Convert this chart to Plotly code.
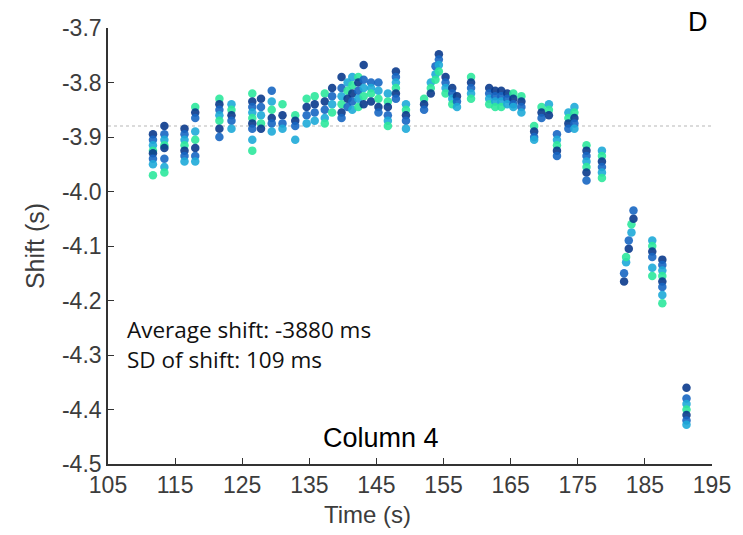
import plotly.graph_objects as go

# ---- data ----
column_time = [111.7, 113.4, 116.4, 118.0, 121.6, 123.4, 126.5, 127.8, 129.4, 131.0,
               132.9, 134.6, 135.8, 137.3, 138.4, 139.8, 140.7, 141.4, 142.3, 143.1,
               144.2, 145.3, 146.7, 147.9, 149.4, 152.1, 153.1, 153.8, 154.3, 155.3,
               156.3, 157.0, 159.1, 161.8, 162.7, 163.6, 164.5, 165.4, 166.6, 168.5,
               169.6, 170.7, 171.9, 173.6, 174.5, 176.3, 178.6, 181.9, 182.2, 182.6,
               183.0, 183.3, 186.1, 187.6, 191.2]
column_shifts = [
    [-3.895, -3.905, -3.915, -3.925, -3.93, -3.94, -3.95, -3.97],
    [-3.88, -3.895, -3.905, -3.915, -3.92, -3.94, -3.955, -3.965],
    [-3.885, -3.895, -3.905, -3.915, -3.925, -3.935, -3.945],
    [-3.845, -3.855, -3.865, -3.89, -3.905, -3.92, -3.935, -3.945],
    [-3.83, -3.84, -3.85, -3.86, -3.87, -3.885, -3.9],
    [-3.84, -3.85, -3.86, -3.87, -3.885],
    [-3.82, -3.835, -3.845, -3.855, -3.865, -3.875, -3.885, -3.905, -3.925],
    [-3.83, -3.845, -3.86, -3.875, -3.885],
    [-3.815, -3.835, -3.85, -3.865, -3.875, -3.89],
    [-3.84, -3.86, -3.875, -3.885],
    [-3.86, -3.87, -3.88, -3.905],
    [-3.83, -3.845, -3.86, -3.875],
    [-3.825, -3.84, -3.855, -3.87],
    [-3.82, -3.835, -3.85, -3.865, -3.875],
    [-3.81, -3.825, -3.84, -3.855],
    [-3.79, -3.81, -3.825, -3.84, -3.855, -3.865],
    [-3.80, -3.815, -3.83, -3.845],
    [-3.79, -3.805, -3.82, -3.835, -3.85],
    [-3.79, -3.80, -3.815, -3.83, -3.845],
    [-3.768, -3.795, -3.81, -3.825, -3.84],
    [-3.80, -3.81, -3.82, -3.835],
    [-3.80, -3.815, -3.83, -3.845, -3.855],
    [-3.82, -3.835, -3.845, -3.86, -3.87, -3.88],
    [-3.78, -3.79, -3.80, -3.81, -3.82, -3.83],
    [-3.84, -3.85, -3.86, -3.87, -3.885],
    [-3.83, -3.84, -3.85],
    [-3.80, -3.81, -3.82],
    [-3.77, -3.785, -3.795],
    [-3.748, -3.758, -3.768, -3.78],
    [-3.79, -3.80, -3.81, -3.82],
    [-3.81, -3.82, -3.83, -3.84],
    [-3.825, -3.835, -3.845],
    [-3.79, -3.80, -3.81, -3.82, -3.83],
    [-3.81, -3.82, -3.83, -3.84],
    [-3.815, -3.825, -3.835, -3.845],
    [-3.815, -3.825, -3.835, -3.845],
    [-3.82, -3.83, -3.84],
    [-3.82, -3.83, -3.84, -3.845],
    [-3.825, -3.835, -3.845, -3.855],
    [-3.88, -3.89, -3.90, -3.905],
    [-3.845, -3.855, -3.865],
    [-3.84, -3.85, -3.86],
    [-3.895, -3.905, -3.915, -3.925, -3.935],
    [-3.855, -3.865, -3.875, -3.885],
    [-3.845, -3.855, -3.865, -3.875, -3.885],
    [-3.915, -3.925, -3.935, -3.945, -3.955, -3.965, -3.98],
    [-3.925, -3.935, -3.945, -3.955, -3.965, -3.975],
    [-4.165, -4.15],
    [-4.13, -4.12],
    [-4.105, -4.09],
    [-4.075, -4.06],
    [-4.05, -4.035],
    [-4.09, -4.10, -4.11, -4.12, -4.14, -4.155],
    [-4.125, -4.135, -4.145, -4.155, -4.165, -4.175, -4.19, -4.205],
    [-4.36, -4.38, -4.39, -4.40, -4.41, -4.42, -4.428],
]
avg_shift = -3.880
x_ticks = [105, 115, 125, 135, 145, 155, 165, 175, 185, 195]
y_ticks = [-4.5, -4.4, -4.3, -4.2, -4.1, -4.0, -3.9, -3.8, -3.7]
y_tick_labels = ["-4.5", "-4.4", "-4.3", "-4.2", "-4.1", "-4.0", "-3.9", "-3.8", "-3.7"]
channel_colors = ["#0a3a8c", "#1766c2", "#1eaad8", "#2ee89c"]

xs, ys, cs = [], [], []
k = 0
for t, shifts in zip(column_time, column_shifts):
    for s in shifts:
        xs.append(t)
        ys.append(s)
        cs.append(channel_colors[k % 4])
        k += 1

fig = go.Figure()
fig.add_trace(go.Scatter(
    x=xs, y=ys, mode="markers",
    marker=dict(size=8.5, color=cs, opacity=0.9, line=dict(width=0)),
    showlegend=False, hoverinfo="x+y"))

fig.add_shape(type="line", xref="x", yref="y", x0=105, x1=195, y0=avg_shift, y1=avg_shift,
              line=dict(color="#d0d0d0", width=1.5, dash="dot"), layer="below")

tick_font = dict(family="Liberation Sans, Arial", size=23, color="#3c3c3c")

fig.update_layout(
    width=743, height=535,
    margin=dict(l=108, r=31, t=28, b=71),
    plot_bgcolor="white", paper_bgcolor="white",
    xaxis=dict(range=[105, 195], tickvals=x_ticks, ticktext=[str(v) for v in x_ticks],
               ticks="inside", ticklen=6, tickwidth=1.2, tickcolor="#333",
               showline=True, linecolor="#333", linewidth=1.6, showgrid=False, zeroline=False,
               tickfont=tick_font),
    yaxis=dict(range=[-4.5, -3.7], tickvals=y_ticks, ticktext=y_tick_labels,
               ticks="inside", ticklen=6, tickwidth=1.2, tickcolor="#333",
               showline=True, linecolor="#333", linewidth=1.6, showgrid=False, zeroline=False,
               tickfont=tick_font,
               title=dict(text="Shift (s)", font=dict(family="Liberation Sans, Arial",
                                                      size=25, color="#3c3c3c"), standoff=10)),
)

fig.add_annotation(x=143.7, y=-0.115, xref="x", yref="paper", text="Time (s)",
                   showarrow=False, xanchor="center", yanchor="middle",
                   font=dict(family="Liberation Sans, Arial", size=24, color="#3c3c3c"))
fig.add_annotation(x=107.6, y=-4.253, xref="x", yref="y", text="Average shift: -3880 ms",
                   showarrow=False, xanchor="left", yanchor="middle",
                   font=dict(family="Open Sans", size=22.5, color="#111"))
fig.add_annotation(x=107.6, y=-4.308, xref="x", yref="y", text="SD of shift: 109 ms",
                   showarrow=False, xanchor="left", yanchor="middle",
                   font=dict(family="Open Sans", size=22.5, color="#111"))
fig.add_annotation(x=145.7, y=-4.452, xref="x", yref="y", text="Column 4",
                   showarrow=False, xanchor="center", yanchor="middle",
                   font=dict(family="Liberation Sans, Arial", size=27, color="#000"))
fig.add_annotation(x=0.977, y=1.014, xref="paper", yref="paper", text="D",
                   showarrow=False, xanchor="center", yanchor="middle",
                   font=dict(family="Liberation Sans, Arial", size=27, color="#000"))

fig.write_html("out.html")
